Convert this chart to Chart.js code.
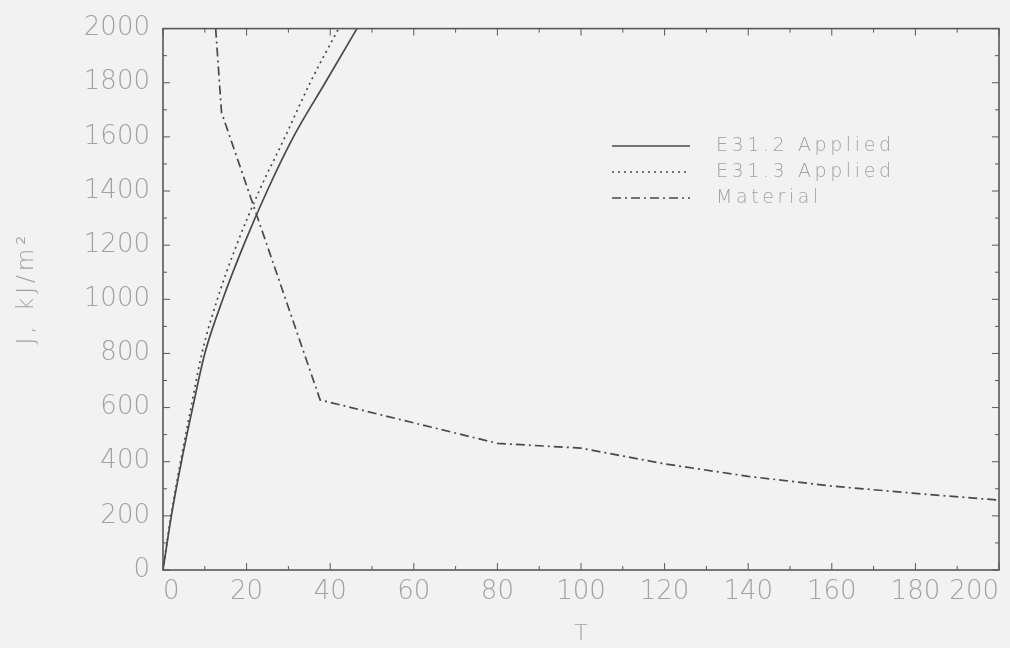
<!DOCTYPE html>
<html>
<head>
<meta charset="utf-8">
<script src="https://cdn.jsdelivr.net/npm/chart.js@4/dist/chart.umd.min.js"></script>
<style>
  html, body { margin: 0; padding: 0; background: #f2f2f2; }
  #wrap { width: 1010px; height: 648px; }
</style>
</head>
<body>
<div id="wrap"><canvas id="myChart" width="1010" height="648"></canvas></div>
<script>
// E31.2 Applied (solid)
const e312T = [0, 2.0, 4.4, 7.1, 10.0, 14.3, 19.3, 24.9, 31.2, 38.8, 46.4];
const e312J = [0, 200, 400, 600, 800, 1000, 1200, 1400, 1600, 1800, 2000];
// E31.3 Applied (dotted)
const e313T = [0, 1.9, 4.2, 6.7, 9.3, 13.0, 17.6, 23.0, 29.2, 35.2, 42.0];
const e313J = [0, 200, 400, 600, 800, 1000, 1200, 1400, 1600, 1800, 2000];
// Material (dash-dot)
const matT = [12.6, 14.0, 37.6, 80, 100, 120, 140, 160, 180, 200];
const matJ = [2000, 1690, 628, 468, 450, 392, 346, 310, 283, 258];

const xTicks = [0, 20, 40, 60, 80, 100, 120, 140, 160, 180, 200];
const yTicks = [0, 200, 400, 600, 800, 1000, 1200, 1400, 1600, 1800, 2000];
const yTitle = 'J, kJ/m²';

const lineColor = '#4a4a4a';
const textColor = '#a2a2a2';
const fontFamily = '"DejaVu Sans", sans-serif';

function pts(xs, ys) {
  return xs.map((x, i) => ({x: x, y: ys[i]}));
}

const series = [
  {label: 'E31.2 Applied', data: pts(e312T, e312J), dash: [], tension: 0.4},
  {label: 'E31.3 Applied', data: pts(e313T, e313J), dash: [2, 4], tension: 0.4},
  {label: 'Material', data: pts(matT, matJ), dash: [9, 4, 2, 4], tension: 0},
];

// frame, inward ticks, y title and in-plot legend
const framePlugin = {
  id: 'frame',
  afterDatasetsDraw(chart) {
    const ctx = chart.ctx;
    const a = chart.chartArea;
    const xs = chart.scales.x, ys = chart.scales.y;
    ctx.save();
    ctx.strokeStyle = '#585858';
    ctx.lineWidth = 1.6;
    ctx.setLineDash([]);
    ctx.strokeRect(a.left, a.top, a.right - a.left, a.bottom - a.top);
    ctx.lineWidth = 1;
    ctx.beginPath();
    for (let v = 0; v <= 200; v += 10) {
      const px = xs.getPixelForValue(v);
      const len = v % 20 === 0 ? 7 : 4;
      ctx.moveTo(px, a.bottom); ctx.lineTo(px, a.bottom - len);
      ctx.moveTo(px, a.top); ctx.lineTo(px, a.top + len);
    }
    for (let v = 0; v <= 2000; v += 100) {
      const py = ys.getPixelForValue(v);
      const len = v % 200 === 0 ? 7 : 4;
      ctx.moveTo(a.left, py); ctx.lineTo(a.left + len, py);
      ctx.moveTo(a.right, py); ctx.lineTo(a.right - len, py);
    }
    ctx.stroke();

    // y axis title, wide spacing like the plotter font
    ctx.save();
    ctx.translate(27, 288);
    ctx.rotate(-Math.PI / 2);
    ctx.font = '200 23px ' + fontFamily;
    ctx.letterSpacing = '4px';
    ctx.fillStyle = textColor;
    ctx.textAlign = 'center';
    ctx.textBaseline = 'middle';
    ctx.fillText(yTitle, 0, 0);
    ctx.restore();

    // legend
    ctx.font = '200 19px ' + fontFamily;
    ctx.letterSpacing = '3.6px';
    ctx.textBaseline = 'middle';
    chart.data.datasets.forEach((ds, i) => {
      const y = 146 + i * 26;
      ctx.strokeStyle = lineColor;
      ctx.lineWidth = 1.6;
      ctx.setLineDash(ds.borderDash || []);
      ctx.beginPath();
      ctx.moveTo(612, y); ctx.lineTo(690, y);
      ctx.stroke();
      ctx.fillStyle = textColor;
      ctx.fillText(ds.label, 716, y);
    });
    ctx.restore();
  }
};

const tickFont = {family: fontFamily, size: 26, weight: 200};

const config = {
  type: 'line',
  data: {
    datasets: series.map(s => ({
      label: s.label,
      data: s.data,
      borderColor: lineColor,
      borderWidth: 1.7,
      borderDash: s.dash,
      tension: s.tension,
      cubicInterpolationMode: s.tension ? 'monotone' : 'default',
      pointRadius: 0,
      fill: false,
    }))
  },
  options: {
    responsive: false,
    animation: false,
    layout: {padding: {top: 22, right: 11, left: 0, bottom: 0}},
    plugins: {
      legend: {display: false},
      tooltip: {enabled: false},
    },
    scales: {
      x: {
        type: 'linear',
        min: 0, max: 200,
        afterFit: s => { s.height = 78; s.paddingRight = 0; },
        afterBuildTicks: s => { s.ticks = xTicks.map(v => ({value: v})); },
        grid: {display: false, drawTicks: false},
        border: {display: false},
        ticks: {color: textColor, padding: 7, font: tickFont, maxRotation: 0, align: 'inner'},
        title: {display: true, text: 'T', color: textColor, padding: {top: 0, bottom: 1}, font: {family: fontFamily, size: 22, weight: 200}},
      },
      y: {
        type: 'linear',
        min: 0, max: 2000,
        afterFit: s => { s.width = 163; },
        afterBuildTicks: s => { s.ticks = yTicks.map(v => ({value: v})); },
        grid: {display: false, drawTicks: false},
        border: {display: false},
        ticks: {color: textColor, padding: 13, font: tickFont, callback: v => String(v)},
        title: {display: false},
      }
    }
  },
  plugins: [framePlugin]
};

const myChart = new Chart(document.getElementById('myChart').getContext('2d'), config);
</script>
</body>
</html>
